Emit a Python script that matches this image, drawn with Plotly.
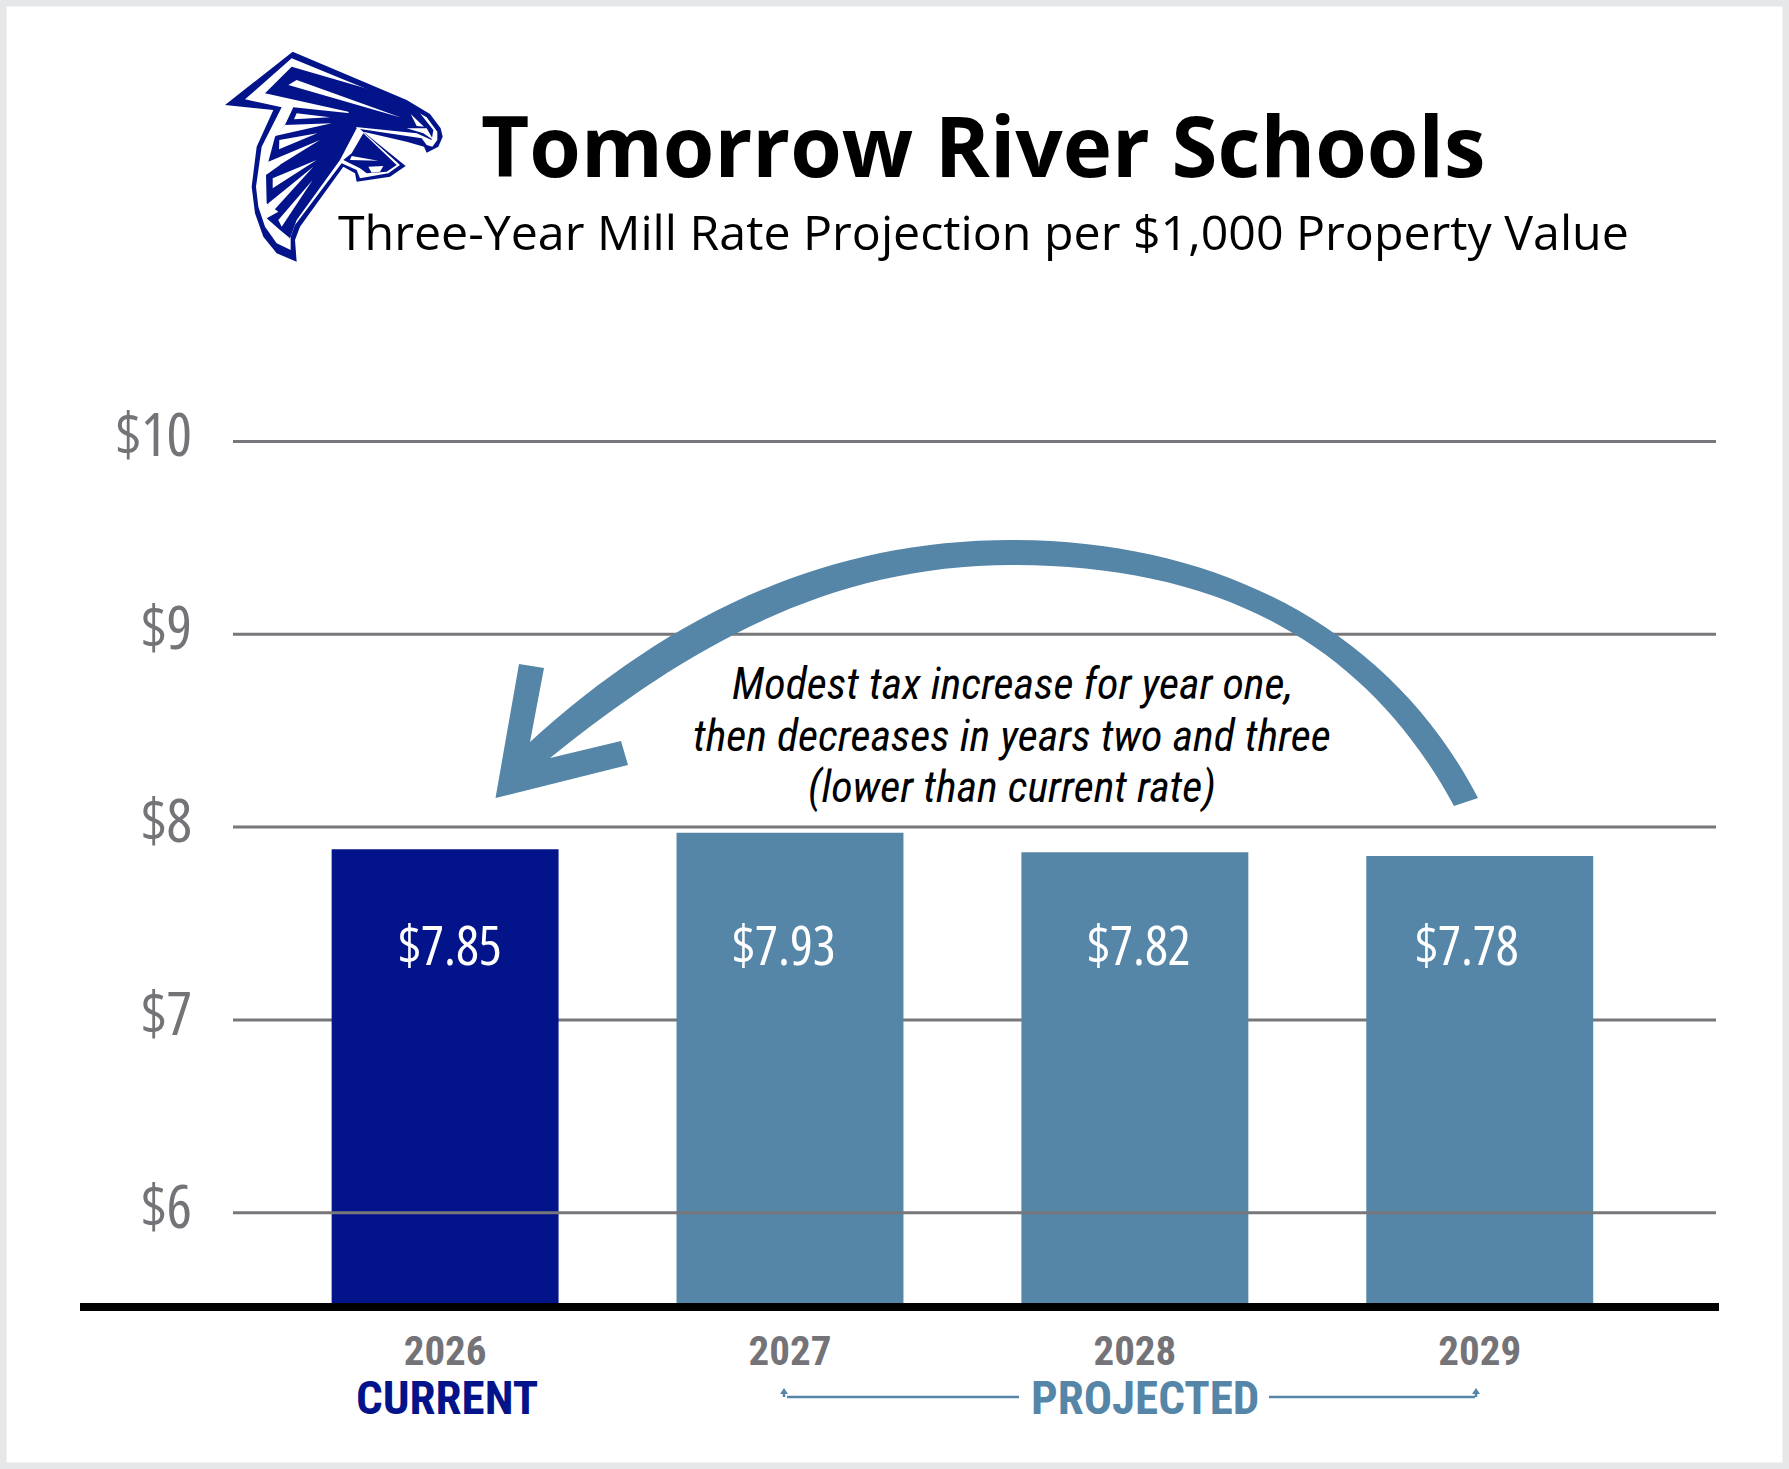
import plotly.graph_objects as go

# 막대 데이터
years = [2026, 2027, 2028, 2029]
bar_tops = [7.885, 7.97, 7.87, 7.85]
bar_labels = ["$7.85", "$7.93", "$7.82", "$7.78"]
bar_colors = ["#03148A", "#5586A8", "#5586A8", "#5586A8"]
y_ticks = [6, 7, 8, 9, 10]
y_tick_labels = ["$6", "$7", "$8", "$9", "$10"]

W, H = 1789, 1469
L, R, T, B = 233, 1716, 345, 1303
NARROW = "Roboto Condensed"
STEEL = "#5586A8"
NAVY = "#03148A"
GREY = "#737378"


def px(x):
    return (x - L) / (R - L)


def py(y):
    return (B - y) / (B - T)


def path(points):
    return "M " + " L ".join(f"{px(x)},{py(y)}" for x, y in points) + " Z"


# 숫자 라벨은 세로로 긴 글꼴이 필요해서 Open Sans 폭을 줄임
def tall(text):
    return f'<span style="font-stretch:75%">{text}</span>'


def curve(c1, c2, end):
    return f" C {px(c1[0])},{py(c1[1])} {px(c2[0])},{py(c2[1])} {px(end[0])},{py(end[1])}"


# 로고는 확대 이미지 기준 좌표로 잡음
def logo(points):
    return path([(200 + x / 3, 30 + y / 3) for x, y in points])


def add_logo(fig):
    layers = [
        (NAVY, [[(278, 65), (620, 210), (690, 252), (722, 295), (728, 320), (715, 350), (680, 368), (672, 350),
                 (620, 335), (490, 305), (617, 408), (570, 440), (470, 455), (465, 430), (430, 410), (300, 590),
                 (285, 630), (290, 695), (230, 670), (190, 620), (165, 550), (155, 470), (170, 350), (220, 240),
                 (75, 225)]]),
        ("white", [[(135, 208), (275, 85), (610, 222), (680, 262), (712, 305), (712, 330), (697, 350), (680, 345),
                    (665, 325), (480, 297), (600, 405), (565, 430), (480, 445), (470, 420), (425, 400), (285, 585),
                    (272, 620), (272, 660), (230, 640), (195, 590), (175, 530), (168, 470), (185, 350), (245, 232)]]),
        (NAVY, [
            # 머리
            [(195, 190), (275, 110), (600, 205), (660, 250), (700, 300), (695, 330), (650, 310), (460, 290),
             (445, 245)],
            # 날개 깃
            [(280, 232), (450, 250), (470, 295), (420, 390), (290, 570), (270, 625), (240, 600), (200, 565),
             (235, 545), (200, 520), (198, 435), (240, 405), (205, 395), (225, 320), (255, 285)],
            # 아래쪽 날개
            [(490, 310), (590, 405), (560, 425), (500, 430), (480, 415), (430, 390), (455, 370)],
        ]),
        ("white", [
            [(265, 165), (290, 150), (605, 263)],
            [(632, 252), (672, 290), (650, 288)],
            [(620, 295), (680, 295), (700, 330), (670, 310)],
            [(290, 250), (390, 262), (282, 268)],
            [(255, 285), (395, 280), (225, 318)],
            [(238, 330), (352, 310), (237, 358)],
            [(205, 395), (360, 330), (190, 435)],
            [(218, 445), (350, 390), (218, 475)],
            [(205, 520), (340, 410), (200, 565)],
            [(235, 570), (338, 450), (245, 590)],
            [(455, 378), (535, 392), (450, 390)],
            [(505, 410), (550, 408), (540, 425), (515, 428)],
        ]),
    ]
    for color, parts in layers:
        for part in parts:
            fig.add_shape(type="path", path=logo(part), xref="paper", yref="paper", fillcolor=color, line_width=0)


fig = go.Figure(go.Bar(
    x=years,
    y=bar_tops,
    width=0.658,
    marker=dict(color=bar_colors, line_width=0),
    hoverinfo="skip",
))

fig.update_layout(
    width=W,
    height=H,
    autosize=False,
    margin=dict(l=L, r=W - R, t=T, b=H - B, pad=0),
    paper_bgcolor="white",
    plot_bgcolor="rgba(0,0,0,0)",
    showlegend=False,
    xaxis=dict(
        range=[2025.385, 2029.685],
        tickvals=years,
        tickfont=dict(family=NARROW, size=41, color=GREY, weight="bold"),
        showgrid=False,
        zeroline=False,
        showline=False,
        ticks="",
        ticklabelstandoff=20,
    ),
    yaxis=dict(
        range=[5.532, 10.5],
        tickvals=y_ticks,
        ticktext=[tall(t) for t in y_tick_labels],
        tickfont=dict(family="Open Sans", size=60, color=GREY),
        showgrid=False,
        zeroline=False,
        showline=False,
        ticks="",
        ticklabelstandoff=40,
        ticklabelshift=-6,
    ),
)

# 눈금선: $6 선만 막대 위로 지나감
for tick in y_ticks:
    fig.add_shape(type="line", xref="paper", yref="y", x0=0, x1=1, y0=tick, y1=tick,
                  line=dict(color="#77777B", width=3), layer="above" if tick == 6 else "below")

# 바깥 테두리
fig.add_shape(type="rect", xref="paper", yref="paper", x0=px(3.3), x1=px(W - 3.3), y0=py(3.3), y1=py(H - 3.3),
              line=dict(color="#E6E7E8", width=6.6), fillcolor="rgba(0,0,0,0)")

# 아래쪽 굵은 축선
fig.add_shape(type="rect", xref="paper", yref="paper", x0=px(80), x1=px(1719), y0=py(1303), y1=py(1311),
              fillcolor="black", line_width=0)

# 큰 곡선 화살표
arrow = f"M {px(1478)},{py(798)}"
arrow += curve((1392, 632), (1222, 540), (1012, 540))
arrow += curve((812, 540), (658, 626), (530, 742))
arrow += "".join(f" L {px(x)},{py(y)}" for x, y in [(544, 668), (519, 664), (495.5, 798), (628, 765), (621, 741), (550, 758)])
arrow += curve((689, 646), (830, 565), (1012, 565))
arrow += curve((1202, 565), (1359, 630), (1454, 806))
arrow += " Z"
fig.add_shape(type="path", path=arrow, xref="paper", yref="paper", fillcolor=STEEL, line_width=0)

# PROJECTED 양쪽 가는 화살표
for x0, x1, tip in [(787, 1019, 784), (1269, 1475, 1476)]:
    fig.add_shape(type="line", xref="paper", yref="paper", x0=px(x0), x1=px(x1), y0=py(1397), y1=py(1397),
                  line=dict(color=STEEL, width=2.5))
    fig.add_shape(type="path", path=path([(tip - 4, 1394), (tip, 1388), (tip + 4, 1394)]), xref="paper", yref="paper",
                  fillcolor=STEEL, line_width=0)
    fig.add_shape(type="line", xref="paper", yref="paper", x0=px(tip), x1=px(tip), y0=py(1392), y1=py(1397),
                  line=dict(color=STEEL, width=2.5))

add_logo(fig)


def add_text(text, x, y, family, size, color, **font_extra):
    fig.add_annotation(text=text, xref="paper", yref="paper", x=px(x), y=py(y), showarrow=False,
                       xanchor="center", yanchor="middle", align="center",
                       font=dict(family=family, size=size, color=color, **font_extra))


add_text("Tomorrow River Schools", 983, 145, "Open Sans", 83.4, "black", weight="bold")
add_text("Three-Year Mill Rate Projection per $1,000 Property Value", 983, 231, "Open Sans", 48.3, "black")
add_text("Modest tax increase for year one,", 1012, 684, NARROW, 44, "black", style="italic")
add_text("then decreases in years two and three", 1012, 736, NARROW, 44, "black", style="italic")
add_text("(lower than current rate)", 1012, 787, NARROW, 44, "black", style="italic")
add_text("CURRENT", 447, 1397, NARROW, 47, NAVY, weight="bold")
add_text("PROJECTED", 1145, 1397, NARROW, 47, STEEL, weight="bold")

# 막대 안쪽 값 라벨
for label, cx in zip(bar_labels, [450, 784, 1139, 1467]):
    add_text(tall(label), cx, 944, "Open Sans", 54, "white")

# body 기본 여백을 없애서 테두리가 창 끝까지 오게 함
fig.write_html("out.html", config={"displayModeBar": False}, post_script="document.body.style.margin = '0';")
